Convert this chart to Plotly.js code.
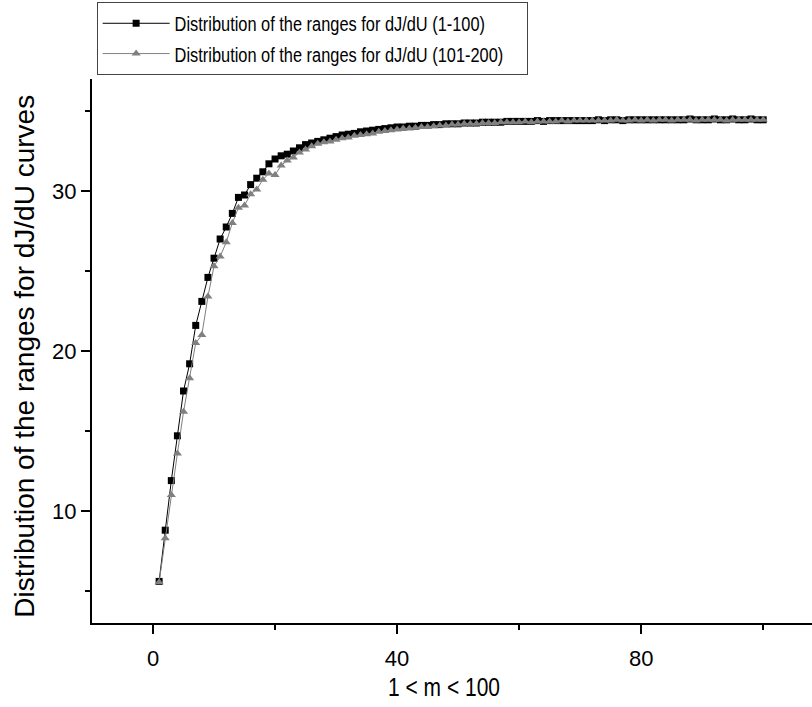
<!DOCTYPE html>
<html>
<head>
<meta charset="utf-8">
<script src="https://cdn.plot.ly/plotly-3.0.1.min.js"></script>
<style>html,body{margin:0;padding:0;background:#fff;}#chart{width:812px;height:707px;}</style>
</head>
<body>
<div id="chart"></div>
<script>
const mValues = [1,2,3,4,5,6,7,8,9,10,11,12,13,14,15,16,17,18,19,20,
  21,22,23,24,25,26,27,28,29,30,31,32,33,34,35,36,37,38,39,40,
  41,42,43,44,45,46,47,48,49,50,51,52,53,54,55,56,57,58,59,60,
  61,62,63,64,65,66,67,68,69,70,71,72,73,74,75,76,77,78,79,80,
  81,82,83,84,85,86,87,88,89,90,91,92,93,94,95,96,97,98,99,100];

const rangesA = [5.6,8.8,11.9,14.7,17.5,19.2,21.6,23.1,24.6,25.8,
  27.0,27.75,28.6,29.6,29.75,30.4,30.8,31.2,31.7,32.0,
  32.2,32.3,32.5,32.7,32.9,33.0,33.1,33.2,33.3,33.4,
  33.5,33.55,33.6,33.7,33.75,33.8,33.85,33.9,33.95,34.0,
  34.0,34.05,34.05,34.1,34.1,34.15,34.15,34.2,34.2,34.2,
  34.25,34.25,34.25,34.3,34.3,34.3,34.3,34.35,34.35,34.35,
  34.35,34.35,34.4,34.35,34.4,34.4,34.4,34.4,34.4,34.4,
  34.4,34.4,34.45,34.4,34.45,34.45,34.4,34.45,34.45,34.45,
  34.45,34.45,34.45,34.45,34.45,34.45,34.45,34.5,34.45,34.45,
  34.45,34.5,34.45,34.45,34.5,34.45,34.45,34.5,34.45,34.45];

const rangesB = [5.55,8.3,11.0,13.6,16.2,18.3,20.5,21.0,23.4,25.3,
  25.9,26.8,28.0,28.95,29.1,29.8,30.1,30.7,31.1,31.0,
  31.6,31.9,32.1,32.4,32.6,32.8,32.95,33.05,33.1,33.2,
  33.3,33.35,33.45,33.5,33.55,33.6,33.7,33.75,33.8,33.85,
  33.9,33.9,33.95,34.0,34.0,34.05,34.1,34.1,34.15,34.15,
  34.2,34.2,34.2,34.25,34.25,34.25,34.3,34.3,34.3,34.3,
  34.35,34.3,34.35,34.35,34.35,34.35,34.4,34.35,34.4,34.4,
  34.4,34.4,34.4,34.4,34.4,34.45,34.4,34.4,34.45,34.4,
  34.45,34.4,34.45,34.45,34.4,34.45,34.45,34.45,34.4,34.45,
  34.45,34.45,34.45,34.4,34.45,34.45,34.45,34.45,34.45,34.45];

const seriesNames = ['Distribution of the ranges for dJ/dU (1-100)',
                     'Distribution of the ranges for dJ/dU (101-200)'];
const xTitle = '1 < m < 100';
const yTitle = 'Distribution of the ranges for dJ/dU curves';

const FONT = '"Liberation Sans", Arial, sans-serif';

const traces = [
  {x: mValues, y: rangesA, name: seriesNames[0], type: 'scatter', mode: 'lines+markers',
   line: {color: '#000000', width: 1},
   marker: {symbol: 'square', size: 7, color: '#000000'}},
  {x: mValues, y: rangesB, name: seriesNames[1], type: 'scatter', mode: 'lines+markers',
   line: {color: '#808080', width: 1},
   marker: {symbol: 'triangle-up', size: 8, color: '#808080'}}
];

const layout = {
  width: 812, height: 707,
  margin: {l: 92, r: 0, t: 79, b: 84, pad: 0, autoexpand: false},
  paper_bgcolor: '#ffffff', plot_bgcolor: '#ffffff',
  font: {family: FONT, color: '#000000', size: 20},
  showlegend: true,
  legend: {
    xref: 'container', yref: 'container',
    x: 0.119, y: 0.997, xanchor: 'left', yanchor: 'top',
    bgcolor: '#ffffff', bordercolor: '#444444', borderwidth: 1,
    font: {family: FONT, size: 21, color: '#000000'},
    itemwidth: 67,
    tracegroupgap: 0
  },
  xaxis: {
    range: [-10, 108], showgrid: false, zeroline: false,
    showline: true, linecolor: '#000000', linewidth: 2, mirror: false,
    ticks: 'outside', ticklen: 9, tickwidth: 2, tickcolor: '#000000',
    tick0: 0, dtick: 40, ticklabelstandoff: 6,
    minor: {ticks: 'outside', ticklen: 5, tickwidth: 2, tickcolor: '#000000', dtick: 20, tick0: 0, showgrid: false},
    tickfont: {family: FONT, size: 22, color: '#000000'},
    title: {text: xTitle, font: {family: FONT, size: 25, color: '#000000'}, standoff: 8}
  },
  yaxis: {
    range: [3, 37], showgrid: false, zeroline: false,
    showline: true, linecolor: '#000000', linewidth: 2, mirror: false,
    ticks: 'outside', ticklen: 9, tickwidth: 2, tickcolor: '#000000',
    tick0: 0, dtick: 10,
    minor: {ticks: 'outside', ticklen: 5, tickwidth: 2, tickcolor: '#000000', dtick: 5, tick0: 0, showgrid: false},
    tickfont: {family: FONT, size: 22, color: '#000000'}
  },
  annotations: [{
    text: yTitle, xref: 'paper', yref: 'paper', x: -0.094, y: 0.49,
    xanchor: 'center', yanchor: 'middle', textangle: -90, showarrow: false,
    font: {family: FONT, size: 28, color: '#000000'}
  }]
};

function condense(el, s, anchorX) {
  const x = anchorX !== undefined ? anchorX : (parseFloat(el.getAttribute('x')) || 0);
  const prev = el.getAttribute('transform') || '';
  el.setAttribute('transform', prev + ' translate(' + x + ',0) scale(' + s + ',1) translate(' + (-x) + ',0)');
}

Plotly.newPlot('chart', traces, layout, {displayModeBar: false, responsive: false}).then(function (gd) {
  gd.querySelectorAll('g.legend text.legendtext').forEach(function (t) { condense(t, 0.78); });
  const bg = gd.querySelector('g.legend rect.bg');
  if (bg) bg.setAttribute('width', 430);
  const xt = gd.querySelector('text.xtitle');
  if (xt) {
    const cx = parseFloat(xt.getAttribute('x')) || 452;
    condense(xt, 0.84, cx - 50);
  }
});
</script>
</body>
</html>
